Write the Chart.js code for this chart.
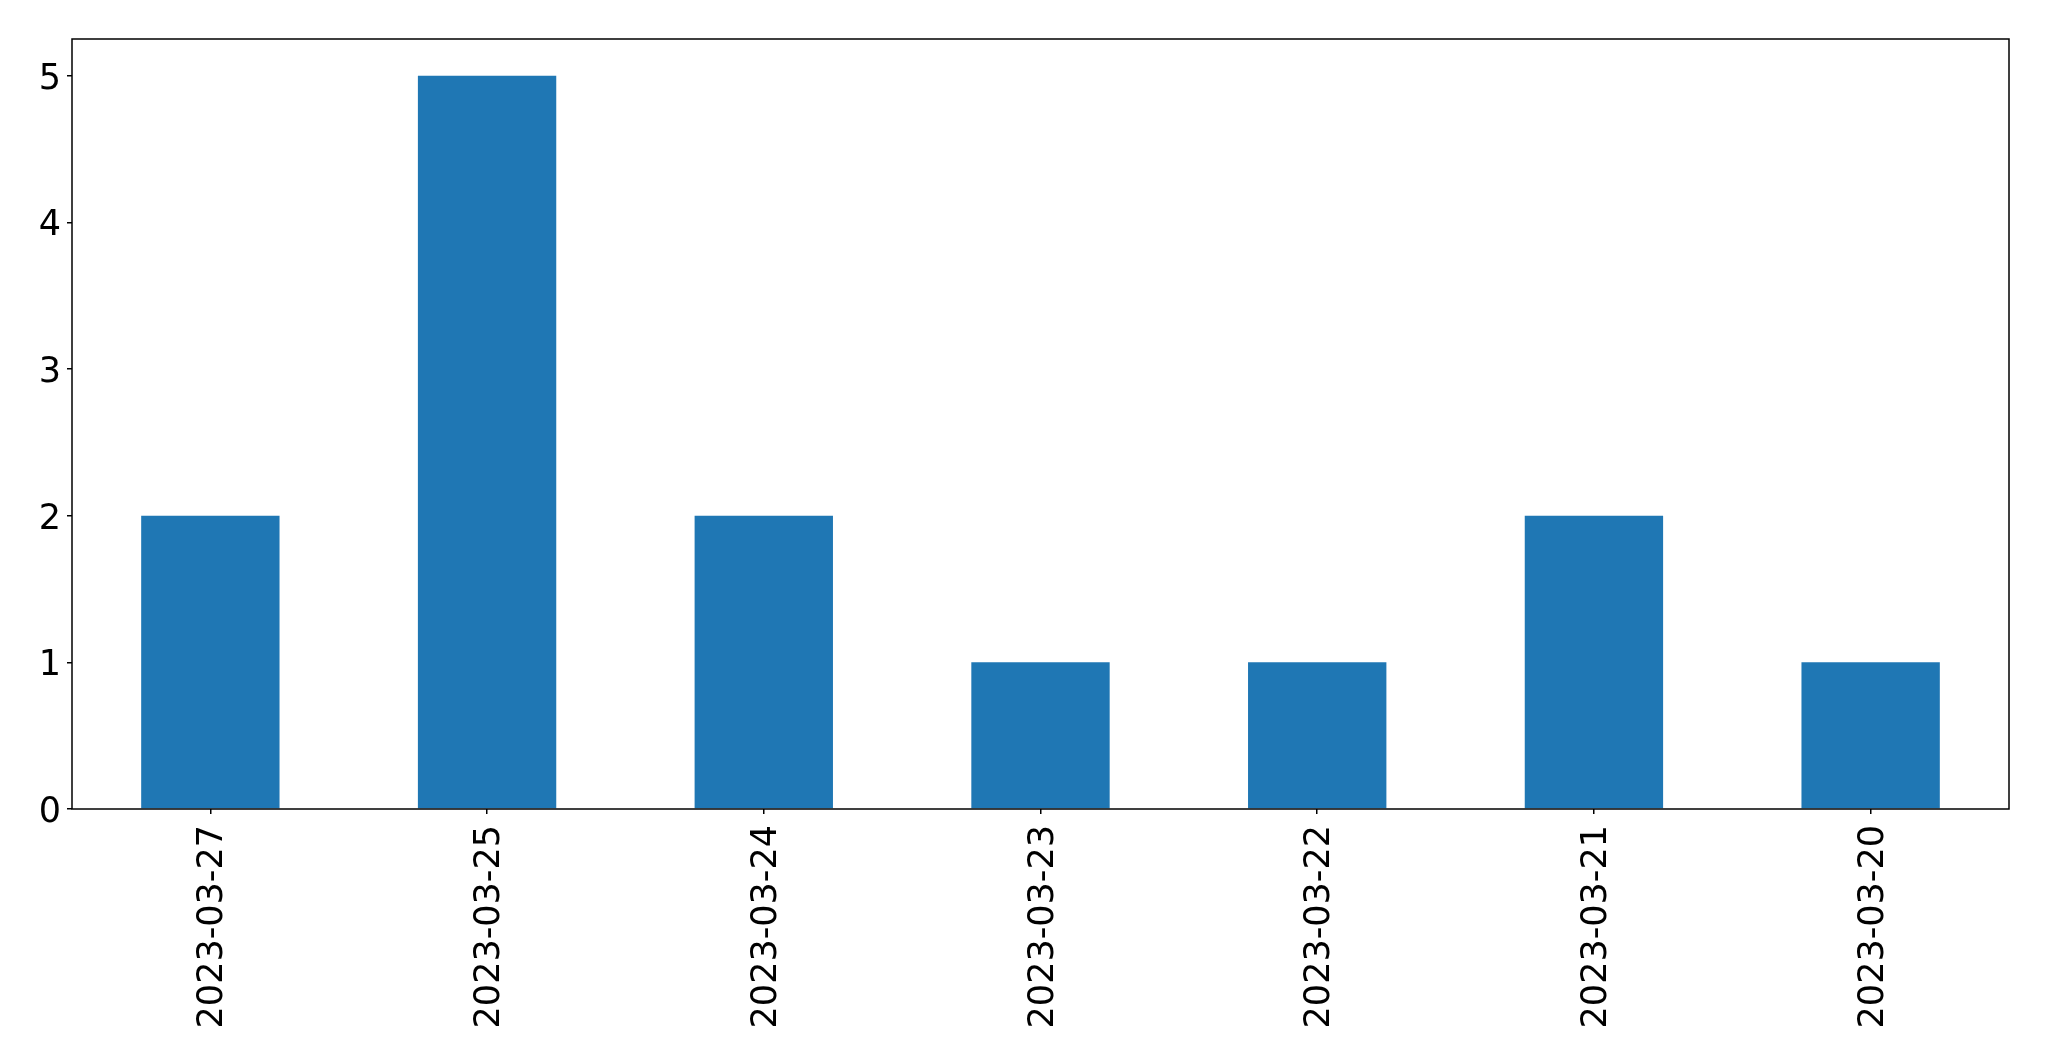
<!DOCTYPE html>
<html>
<head>
<meta charset="utf-8">
<script src="https://cdn.jsdelivr.net/npm/chart.js@4"></script>
<style>
  html, body { margin: 0; padding: 0; background: #fff; }
  #wrap { width: 2049px; height: 1061px; }
</style>
</head>
<body>
<div id="wrap"><canvas id="chart" width="2049" height="1061"></canvas></div>
<script>
// data
const dates = ['2023-03-27', '2023-03-25', '2023-03-24', '2023-03-23', '2023-03-22', '2023-03-21', '2023-03-20'];
const counts = [2, 5, 2, 1, 1, 2, 1];
const yTicks = [0, 1, 2, 3, 4, 5];
const yMax = 5.25;

// draws the black frame around the plot area
const frame = {
    id: 'frame',
    afterDraw(chart) {
        const a = chart.chartArea;
        const ctx = chart.ctx;
        ctx.save();
        ctx.strokeStyle = '#000';
        ctx.lineWidth = 1.5;
        ctx.strokeRect(a.left, a.top, a.right - a.left, a.bottom - a.top);
        ctx.restore();
    }
};

Chart.defaults.font.family = 'DejaVu Sans';
Chart.defaults.color = '#000';

const ctx = document.getElementById('chart').getContext('2d');
new Chart(ctx, {
    type: 'bar',
    data: {
        labels: dates,
        datasets: [{
            data: counts,
            backgroundColor: '#1f77b4',
            categoryPercentage: 1.0,
            barPercentage: 0.5
        }]
    },
    options: {
        responsive: false,
        animation: false,
        layout: { padding: { top: 39, right: 40, left: 0, bottom: 0 } },
        plugins: { legend: { display: false }, tooltip: { enabled: false } },
        scales: {
            x: {
                afterFit(scale) { scale.height = 252; },
                grid: { offset: false, drawOnChartArea: false, tickLength: 5, color: '#000', lineWidth: 1.5 },
                border: { display: false },
                ticks: { font: { size: 35 }, maxRotation: 90, minRotation: 90, padding: 11, labelOffset: 3 }
            },
            y: {
                min: 0,
                max: yMax,
                afterFit(scale) { scale.width = 72; },
                afterBuildTicks(scale) { scale.ticks = yTicks.map(v => ({ value: v })); },
                grid: { drawOnChartArea: false, tickLength: 5, color: '#000', lineWidth: 1.5 },
                border: { display: false },
                ticks: { font: { size: 35 }, padding: 6, labelOffset: 4 }
            }
        }
    },
    plugins: [frame]
});
</script>
</body>
</html>
